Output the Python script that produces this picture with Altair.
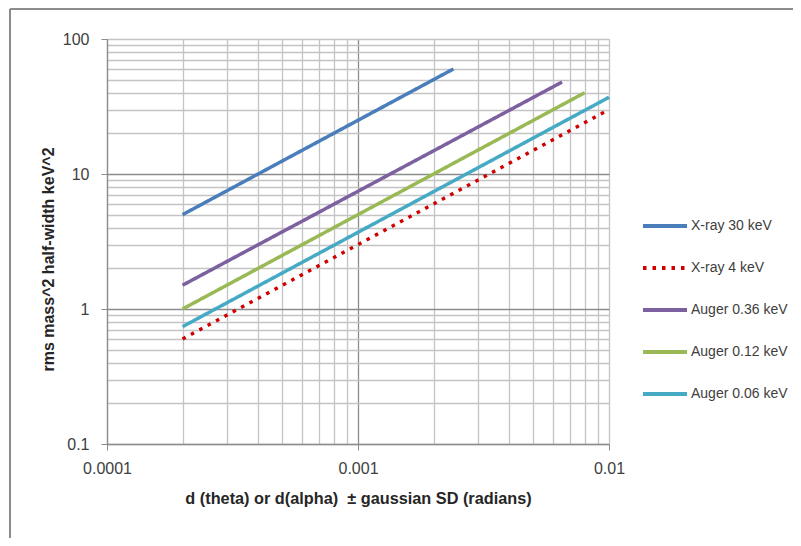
import altair as alt
import pandas as pd

series = ["X-ray 30 keV", "X-ray 4 keV", "Auger 0.36 keV", "Auger 0.12 keV", "Auger 0.06 keV"]
colors = ["#4A7EBB", "#D00000", "#7D60A0", "#98B954", "#46AAC5"]
x_start = [0.0002, 0.0002, 0.0002, 0.0002, 0.0002]
x_end = [0.0024, 0.01, 0.0065, 0.008, 0.01]
y_start = [5.0, 0.6, 1.5, 1.0, 0.74]
y_end = [60.0, 30.0, 48.0, 40.0, 37.0]

x_ticks = [round(k * 10.0 ** e, 10) for e in (-4, -3) for k in range(1, 10)] + [0.01]
y_ticks = [round(k * 10.0 ** e, 10) for e in (-1, 0, 1) for k in range(1, 10)] + [100.0]

rows = []
for i, s in enumerate(series):
    rows.append({"series": s, "order": i, "x": x_start[i], "y": y_start[i]})
    rows.append({"series": s, "order": i, "x": x_end[i], "y": y_end[i]})
df = pd.DataFrame(rows)

is_decade = "abs(log(datum.value)/LN10 - round(log(datum.value)/LN10)) < 1e-6"
grid_major = "(" + is_decade + ") && datum.value != 100 && datum.value != 0.01 && datum.value != 0.1 && datum.value != 0.0001"

font = "Liberation Sans"
txt = "#404040"

x_axis = alt.Axis(
    values=x_ticks,
    labelExpr="(" + is_decade + ") ? ('' + datum.value) : ''",
    grid=True,
    gridColor={"condition": {"test": grid_major, "value": "#8C8C8C"}, "value": "#C4C4C4"},
    gridWidth=1.3,
    tickColor={"condition": {"test": is_decade, "value": "#8C8C8C"}, "value": "transparent"},
    tickSize=6,
    domainColor="#8C8C8C",
    domainWidth=1.3,
    labelFont=font,
    labelFontSize=16,
    labelColor=txt,
    labelPadding=10,
    labelFlush=False,
    title="d (theta) or d(alpha)\u00a0\u00a0\u00b1 gaussian SD (radians)",
    titleFont=font,
    titleFontSize=16.3,
    titleFontWeight="bold",
    titleColor="#262626",
    titleX=251,
    titleY=54,
    titleAlign="center",
    titleBaseline="middle",
)

y_axis = alt.Axis(
    values=y_ticks,
    labelExpr="(" + is_decade + ") ? ('' + datum.value) : ''",
    grid=True,
    gridColor={"condition": {"test": grid_major, "value": "#8C8C8C"}, "value": "#C4C4C4"},
    gridWidth=1.3,
    tickColor={"condition": {"test": is_decade, "value": "#8C8C8C"}, "value": "transparent"},
    tickSize=6,
    domainColor="#8C8C8C",
    domainWidth=1.3,
    labelFont=font,
    labelFontSize=16,
    labelColor=txt,
    labelPadding=12,
    labelFlush=False,
    title="rms mass^2 half-width keV^2",
    titleFont=font,
    titleFontSize=16,
    titleFontWeight="bold",
    titleColor="#262626",
    titleAngle=-90,
    titleX=-59,
    titleY=220,
    titleAlign="center",
    titleBaseline="middle",
)

lines = alt.Chart(df).mark_line(strokeWidth=3.5, clip=False).encode(
    x=alt.X("x:Q", scale=alt.Scale(type="log", domain=[0.0001, 0.01], nice=False), axis=x_axis),
    y=alt.Y("y:Q", scale=alt.Scale(type="log", domain=[0.1, 100], nice=False), axis=y_axis),
    color=alt.Color(
        "series:N",
        scale=alt.Scale(domain=series, range=colors),
        legend=alt.Legend(
            title=None,
            orient="none",
            legendX=534,
            legendY=163,
            symbolType="M-1,0H1",
            symbolSize=1936,
            symbolStrokeWidth=4,
            labelFont=font,
            labelFontSize=14,
            labelColor=txt,
            labelOffset=2,
            rowPadding=10,
            padding=0,
        ),
    ),
    strokeDash=alt.StrokeDash(
        "series:N",
        scale=alt.Scale(domain=series, range=[[1, 0], [3.5, 6], [1, 0], [1, 0], [1, 0]]),
        legend=None,
    ),
    order="order:Q",
    detail="series:N",
)

frame_top = alt.Chart(df).mark_rule(color="#8C8C8C", strokeWidth=1.5).encode(
    x=alt.value(-97), x2=alt.value(700), y=alt.value(-30)
)
frame_left = alt.Chart(df).mark_rule(color="#8C8C8C", strokeWidth=1.5).encode(
    x=alt.value(-97), y=alt.value(-30), y2=alt.value(520)
)

chart = alt.layer(lines, frame_top, frame_left).properties(
    width=502,
    height=405,
    autosize=alt.AutoSizeParams(type="none"),
    padding={"left": 99, "top": 31, "right": 184, "bottom": 94},
).configure_view(stroke=None).configure(background="white")

chart.save("out.html", embed_options={"renderer": "svg", "actions": False})
